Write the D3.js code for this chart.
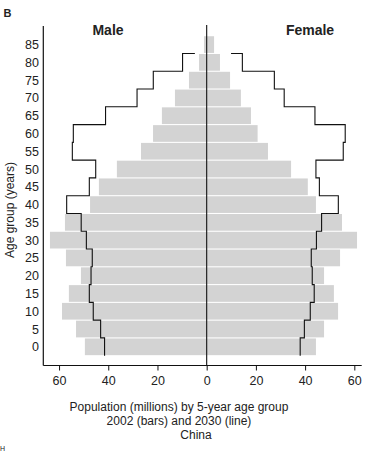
<!DOCTYPE html>
<html><head><meta charset="utf-8">
<script src="https://cdn.jsdelivr.net/npm/d3@7"></script>
<style>
html,body{margin:0;padding:0;background:#fff;}
svg{display:block;}
text{font-family:"Liberation Sans",Arial,sans-serif;fill:#222;}
</style></head>
<body>
<svg id="c" width="371" height="452"></svg>
<script>
const ages = [0,5,10,15,20,25,30,35,40,45,50,55,60,65,70,75,80,85];
const male2002   = [49.5,53.1,58.8,56.0,51.1,57.2,63.7,57.6,47.4,43.8,36.5,26.7,21.8,18.2,12.9,7.2,3.1,1.1];
const female2002 = [44.4,47.7,53.4,51.7,47.7,54.2,61.1,55.0,44.4,41.1,34.3,24.9,20.7,18.0,13.9,9.5,5.4,3.0];
const male2030   = [41.5,43.1,46.1,47.7,47.0,46.5,48.9,51.0,56.9,47.7,45.1,54.6,54.2,41.1,28.3,21.7,9.8,4.8];
const female2030 = [38.0,39.7,42.1,43.7,42.9,42.5,44.6,46.7,53.5,45.8,44.4,55.5,56.3,44.0,31.5,27.5,14.5,9.9];
const xTicks = [-60,-40,-20,0,20,40,60];
const titleLines = ["Population (millions) by 5-year age group","2002 (bars) and 2030 (line)","China"];

const FONT = "'Liberation Sans',Arial,sans-serif";
const svg = d3.select("#c");
const x = d3.scaleLinear().domain([-66.4, 63]).range([43.3, 361.7]);
const y = d3.scaleBand().domain(ages.slice().reverse()).range([35.7, 355.7]).paddingInner(0.06).paddingOuter(0.03);
const axisY = 365.5;

// bars
const g = svg.append("g");
g.selectAll("rect.m").data(ages).join("rect")
  .attr("x", (d,i)=>x(-male2002[i])).attr("y", d=>y(d))
  .attr("width", (d,i)=>x(0)-x(-male2002[i])).attr("height", y.bandwidth())
  .attr("fill", "#d3d3d3");
g.selectAll("rect.f").data(ages).join("rect")
  .attr("x", x(0)).attr("y", d=>y(d))
  .attr("width", (d,i)=>x(female2002[i])-x(0)).attr("height", y.bandwidth())
  .attr("fill", "#d3d3d3");

// step lines (2030)
function stepPath(vals, sign){
  const step = y.step();
  const top = a => y(a) - step*y.paddingInner()/2;
  const bot = a => top(a) + step;
  const n = ages.length;
  const p = d3.path();
  p.moveTo(x(sign*vals[n-1]), bot(ages[n-1]));
  for(let i=n-2;i>=0;i--){
    p.lineTo(x(sign*vals[i]), top(ages[i]));
    p.lineTo(x(sign*vals[i]), bot(ages[i]));
  }
  return p.toString();
}
svg.append("path").attr("d", stepPath(male2030,-1)).attr("fill","none").attr("stroke","#111").attr("stroke-width",1.1);
svg.append("path").attr("d", stepPath(female2030,1)).attr("fill","none").attr("stroke","#111").attr("stroke-width",1.1);

// center line
svg.append("line").attr("x1",x(0)).attr("x2",x(0)).attr("y1",25).attr("y2",axisY).attr("stroke","#111").attr("stroke-width",1.1);

// y axis line
svg.append("line").attr("x1",43.3).attr("x2",43.3).attr("y1",26).attr("y2",axisY).attr("stroke","#111").attr("stroke-width",1.2);
svg.append("g").selectAll("text").data(ages).join("text")
  .attr("x",39).attr("y",d=>y(d)+y.bandwidth()/2).attr("dy","0.36em")
  .attr("text-anchor","end").attr("font-size",12.5).text(d=>d);

// x axis
const xa = svg.append("g").attr("transform",`translate(0,${axisY})`)
  .call(d3.axisBottom(x).tickValues(xTicks).tickFormat(d=>Math.abs(d)).tickSize(5).tickPadding(6));
xa.select(".domain").attr("d",`M43.3,0H361.7`).attr("stroke","#111").attr("stroke-width",1.2);
xa.selectAll(".tick line").attr("stroke","#111");
xa.selectAll(".tick text").attr("font-size",12.5).attr("font-family",FONT).attr("fill","#222");

// titles
svg.append("text").attr("x",179).attr("y",411).attr("text-anchor","middle").attr("font-size",12).text(titleLines[0]);
svg.append("text").attr("x",179).attr("y",425).attr("text-anchor","middle").attr("font-size",12).text(titleLines[1]);
svg.append("text").attr("x",196).attr("y",439).attr("text-anchor","middle").attr("font-size",12).text(titleLines[2]);

svg.append("text").attr("transform","translate(13.5,210) rotate(-90)").attr("text-anchor","middle").attr("font-size",12).text("Age group (years)");

svg.append("text").attr("x",108).attr("y",35).attr("text-anchor","middle").attr("font-size",14).attr("font-weight","bold").text("Male");
svg.append("text").attr("x",310).attr("y",35).attr("text-anchor","middle").attr("font-size",14).attr("font-weight","bold").text("Female");
svg.append("text").attr("x",3.5).attr("y",17).attr("font-size",11).attr("font-weight","bold").text("B");
svg.append("text").attr("x",0).attr("y",451).attr("font-size",7).text("H");
</script>
</body></html>
